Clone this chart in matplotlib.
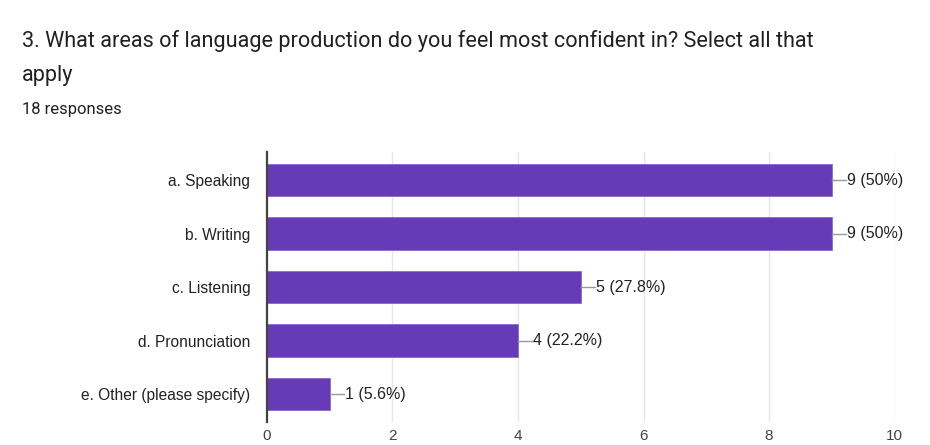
import matplotlib.pyplot as plt

categories = [
    "a. Speaking",
    "b. Writing",
    "c. Listening",
    "d. Pronunciation",
    "e. Other (please specify)",
]
counts = [9, 9, 5, 4, 1]
percent_labels = ["50%", "50%", "27.8%", "22.2%", "5.6%"]
x_ticks = [0, 2, 4, 6, 8, 10]

TITLE = "3. What areas of language production do you feel most confident in? Select all that\napply"
SUBTITLE = "18 responses"
BAR_COLOR = "#673ab7"

fig = plt.figure(figsize=(9.3, 4.45), dpi=100)
ax = fig.add_axes([0.287, 0.052, 0.675, 0.606])

y = list(range(len(categories)))
ax.barh(y, counts, height=0.6, color=BAR_COLOR, edgecolor="#8a6cd0", linewidth=0.6, zorder=3)

# value labels with a short leader line
for yi, c, p in zip(y, counts, percent_labels):
    ax.plot([c, c + 0.23], [yi, yi], color="#999999", lw=1, zorder=3, clip_on=False)
    ax.text(c + 0.24, yi, f"{c} ({p})", va="center", ha="left",
            fontsize=11.5, color="#222222", family="Liberation Sans")

ax.set_xlim(0, 10)
ax.set_ylim(len(categories) - 0.48, -0.52)
ax.set_xticks(x_ticks)
ax.set_yticks(y)
ax.set_yticklabels(categories, fontsize=11.2, color="#222222", family="Liberation Sans")
for lbl in ax.get_xticklabels():
    lbl.set_family("Liberation Sans")
    lbl.set_fontsize(11)
    lbl.set_color("#444444")
ax.tick_params(axis="both", length=0)
ax.tick_params(axis="y", pad=12)
ax.tick_params(axis="x", pad=5)

ax.grid(axis="x", color="#e6e6e6", lw=1, zorder=0)
for side in ["top", "right", "bottom"]:
    ax.spines[side].set_visible(False)
ax.spines["left"].set_color("#444444")
ax.spines["left"].set_linewidth(1.6)
ax.spines["left"].set_zorder(4)

fig.text(0.024, 0.869, TITLE, fontsize=15.6, color="#202124", family="Roboto",
         va="center", ha="left", linespacing=1.8)
fig.text(0.024, 0.753, SUBTITLE, fontsize=12, color="#202124", family="Roboto",
         va="center", ha="left")

fig.savefig("out.png", dpi=100)
